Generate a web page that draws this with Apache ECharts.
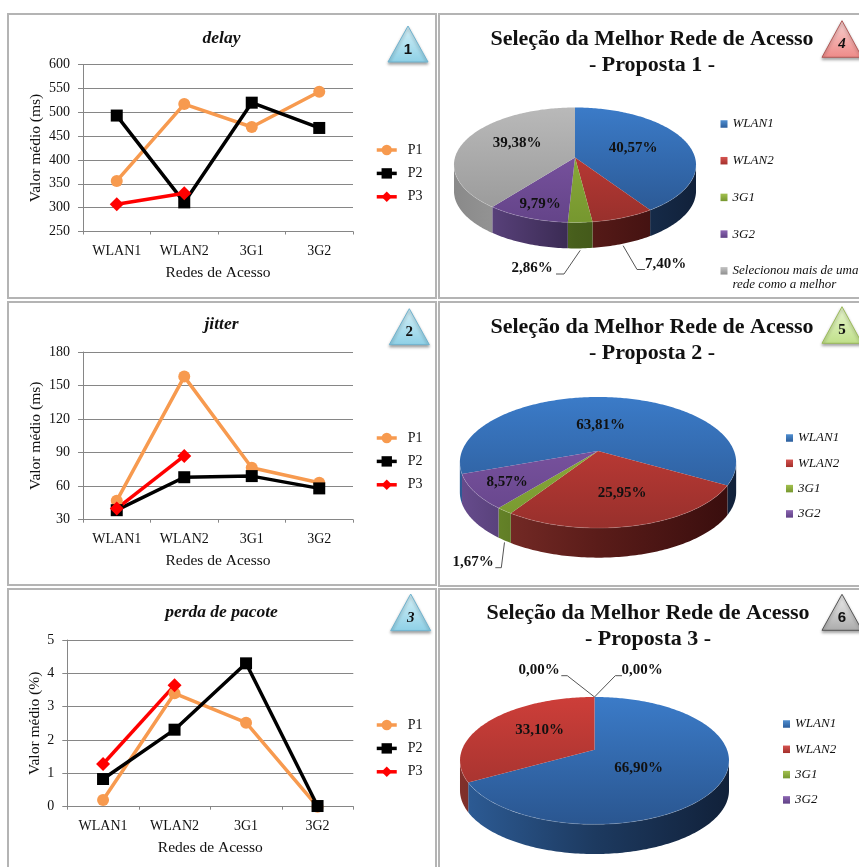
<!DOCTYPE html>
<html>
<head>
<meta charset="utf-8">
<style>html,body{margin:0;padding:0;background:#fff}#chart{width:859px;height:867px}</style>
<script src="https://cdn.jsdelivr.net/npm/echarts@6/dist/echarts.min.js"></script>
</head>
<body>
<div id="chart"></div>
<script>
// Network categories shared by every panel
const redes = ['WLAN1', 'WLAN2', '3G1', '3G2'];
const opcaoMultipla = 'Selecionou mais de uma';
const opcaoMultiplaResto = 'rede como a melhor';

// Mean delay (ms)
const delayP1 = [356, 517, 469, 543];
const delayP2 = [493, 311, 520, 467];
const delayP3 = [307, 330, null, null];

// Mean jitter (ms)
const jitterP1 = [47, 158, 76.5, 63];
const jitterP2 = [38.5, 68, 69, 58];
const jitterP3 = [40, 87, null, null];

// Mean packet loss (%)
const perdaP1 = [0.2, 3.4, 2.52, 0];
const perdaP2 = [0.83, 2.31, 4.3, 0.02];
const perdaP3 = [1.28, 3.64, null, null];

// Best-network choices (%)
const proposta1 = [40.57, 7.40, 2.86, 9.79, 39.38];
const proposta2 = [63.81, 25.95, 1.67, 8.57];
const proposta3 = [66.90, 33.10, 0.00, 0.00];

const FONT = '"Liberation Serif", "Times New Roman", serif';
const INK = '#111';
const GRID = '#868686';

// Colours for the perspective pies: top surface (back to front), wall (left to right), legend swatch
const paleta = [
  { top: ['#3b7bc8', '#2a5690'], wall: ['#2d5c96', '#1d3a60', '#11213a'], key: ['#4f8ed0', '#2b5d9c'] },
  { top: ['#cd3e39', '#98302c'], wall: ['#80302b', '#5a1c19', '#380d0d'], key: ['#d65450', '#a32f2b'] },
  { top: ['#96b440', '#76972f'], wall: ['#6f8f2c', '#475e1c', '#334512'], key: ['#a3c14f', '#76972f'] },
  { top: ['#845aaa', '#644489'], wall: ['#664b8c', '#382950', '#2a1e3c'], key: ['#8c66b2', '#5f4085'] },
  { top: ['#b9b9b9', '#979797'], wall: ['#8a8a8a', '#a6a6a6', '#a6a6a6'], key: ['#c4c4c4', '#8f8f8f'] }
];

function vertical(c0, c1) {
  return new echarts.graphic.LinearGradient(0, 0, 0, 1, [
    { offset: 0, color: c0 }, { offset: 1, color: c1 }
  ]);
}

const percent = v => v.toFixed(2).replace('.', ',') + '%';

// ---- Line charts ----
const linePanels = [
  { title: 'delay', titleY: 24, grid: [83, 64.5, 270, 167], min: 250, max: 600, step: 50, unit: 'ms', gap: 39,
    data: [delayP1, delayP2, delayP3], legendTop: 138 },
  { title: 'jitter', titleY: 310.5, grid: [83, 352, 270, 167.7], min: 30, max: 180, step: 30, unit: 'ms', gap: 39,
    data: [jitterP1, jitterP2, jitterP3], legendTop: 426 },
  { title: 'perda de pacote', titleY: 598.5, grid: [67.3, 640, 286, 166.7], min: 0, max: 5, step: 1, unit: '%', gap: 23,
    data: [perdaP1, perdaP2, perdaP3], legendTop: 713 }
];
const lineStyles = [
  { name: 'P1', color: '#f79a4f', symbol: 'circle', symbolSize: 12 },
  { name: 'P2', color: '#000000', symbol: 'rect', symbolSize: 12 },
  { name: 'P3', color: '#ff0000', symbol: 'diamond', symbolSize: 14 }
];

const titles = [], grids = [], xAxes = [], yAxes = [], legends = [], series = [];

linePanels.forEach((p, i) => {
  titles.push({
    text: p.title, left: 216.5, top: p.titleY, textAlign: 'center',
    textStyle: { fontFamily: FONT, fontSize: 17.5, fontWeight: 'bold', fontStyle: 'italic', color: INK }
  });
  grids.push({ left: p.grid[0], top: p.grid[1], width: p.grid[2], height: p.grid[3] });
  xAxes.push({
    type: 'category', gridIndex: i, data: redes, boundaryGap: true,
    name: 'Redes de Acesso', nameLocation: 'middle', nameGap: 33,
    nameTextStyle: { fontFamily: FONT, fontSize: 15.5, color: INK },
    axisLine: { show: true, lineStyle: { color: GRID, width: 1 } },
    axisTick: { show: true, alignWithLabel: false, length: 3, lineStyle: { color: GRID } },
    axisLabel: { fontFamily: FONT, fontSize: 14, color: INK, margin: 13 }
  });
  yAxes.push({
    type: 'value', gridIndex: i, min: p.min, max: p.max, interval: p.step,
    name: 'Valor médio (' + p.unit + ')', nameLocation: 'middle', nameGap: p.gap, nameRotate: 90,
    nameTextStyle: { fontFamily: FONT, fontSize: 15.5, color: INK },
    axisLine: { show: true, lineStyle: { color: GRID, width: 1 } },
    axisTick: { show: true, length: 5, lineStyle: { color: GRID } },
    axisLabel: { fontFamily: FONT, fontSize: 14, color: INK, margin: 13 },
    splitLine: { show: true, lineStyle: { color: GRID, width: 1 } }
  });
  legends.push({
    orient: 'vertical', left: 370, top: p.legendTop, data: ['P1', 'P2', 'P3'], selectedMode: false,
    itemWidth: 20, itemHeight: 13, itemGap: 9.4,
    lineStyle: { width: 3.5 },
    textStyle: { fontFamily: FONT, fontSize: 14, color: INK, padding: [0, 0, 0, 6] }
  });
  p.data.forEach((values, k) => {
    const s = lineStyles[k];
    series.push({
      type: 'line', name: s.name, xAxisIndex: i, yAxisIndex: i, data: values,
      symbol: s.symbol, symbolSize: s.symbolSize, connectNulls: false,
      lineStyle: { color: s.color, width: 3.5 }, itemStyle: { color: s.color }
    });
  });
});

// ---- Perspective pies ----
// Each pie is a circle seen through a projective camera: `a` horizontal radius, `b` depth radius,
// `k` foreshortening of the far rim, `h` wall height, `start` first slice angle (clockwise from the back).
// Labels are placed relative to the apex; `elbow` holds leader-line bends for labels outside the pie.
const piePanels = [
  { names: ['WLAN1', 'WLAN2', '3G1', '3G2', opcaoMultipla], values: proposta1,
    apex: [575, 157.5], a: 120, b: 56.5, k: 0.13, h: 26, start: 0,
    labels: [
      { at: [58, -9] },
      { at: [90.7, 106.5], elbow: [[62, 112], [70, 112]] },
      { at: [-43, 111], elbow: [[-11, 116.5], [-19, 116.5]] },
      { at: [-35, 46.5] },
      { at: [-58, -14.5] }
    ],
    title: '- Proposta 1 -', titleX: 647, titleY: 22,
    legend: { left: 715.5, top: 111, gap: 20.7 } },
  { names: ['WLAN1', 'WLAN2', '3G1', '3G2'], values: proposta2,
    apex: [598, 451], a: 136, b: 63.5, k: 0.176, h: 29.6, start: 250,
    labels: [
      { at: [2.7, -25.7] },
      { at: [24, 42] },
      { at: [-125, 110.7], elbow: [[-96.7, 116.7], [-102.7, 116.7]] },
      { at: [-91, 30.7] }
    ],
    title: '- Proposta 2 -', titleX: 647, titleY: 310,
    legend: { left: 781, top: 425, gap: 9.3 } },
  { names: ['WLAN1', 'WLAN2', '3G1', '3G2'], values: proposta3,
    apex: [594.5, 749.7], a: 132.5, b: 61.8, k: 0.172, h: 29.7, start: 0,
    labels: [
      { at: [44.2, 18.3] },
      { at: [-54.8, -19.4] },
      { at: [-55.5, -79.4], elbow: [[-27.2, -74], [-33.2, -74]] },
      { at: [47.5, -79.4], elbow: [[20.8, -74], [27.5, -74]] }
    ],
    title: '- Proposta 3 -', titleX: 643, titleY: 596,
    legend: { left: 778, top: 711, gap: 9.3 } }
];

const rad = d => d * Math.PI / 180;

function rim(p, deg) {
  const X = Math.sin(rad(deg)), Z = Math.cos(rad(deg)), w = 1 + p.k * Z;
  return [p.apex[0] + p.a * X / w, p.apex[1] - p.b * Z / w];
}

function sliceElements(p, idx, c) {
  const total = p.values.reduce((s, v) => s + v, 0);
  const before = p.values.slice(0, idx).reduce((s, v) => s + v, 0);
  const d0 = p.start + before / total * 360;
  const d1 = d0 + p.values[idx] / total * 360;
  const top = p.apex[1] - p.b / (1 + p.k), bottom = p.apex[1] + p.b / (1 - p.k);
  const left = p.apex[0] - p.a, right = p.apex[0] + p.a;
  const out = [];
  if (d1 > d0) {
    // Side wall: only the near half of the rim is visible
    const nearA = Math.acos(-p.k) * 180 / Math.PI, nearB = 360 - nearA;
    for (const shift of [0, 360, -360]) {
      const from = Math.max(d0 + shift, nearA), to = Math.min(d1 + shift, nearB);
      if (to > from) {
        const upper = [], lower = [];
        for (let t = from; t < to; t += 1) upper.push(rim(p, t));
        upper.push(rim(p, to));
        upper.forEach(q => lower.unshift([q[0], q[1] + p.h]));
        out.push({
          type: 'polygon', shape: { points: upper.concat(lower) }, z2: 1,
          style: {
            fill: new echarts.graphic.LinearGradient(left, 0, right, 0, [
              { offset: 0, color: c.wall[0] }, { offset: 0.5, color: c.wall[1] }, { offset: 1, color: c.wall[2] }
            ], true)
          }
        });
        // Soft highlight along the bevelled front edge
        out.push({
          type: 'polyline', shape: { points: upper }, z2: 3,
          style: { stroke: 'rgba(255,255,255,0.16)', lineWidth: 1, fill: null }
        });
      }
    }
    // Top surface
    const pts = [p.apex.slice()];
    for (let t = d0; t < d1; t += 1) pts.push(rim(p, t));
    pts.push(rim(p, d1));
    out.push({
      type: 'polygon', shape: { points: pts }, z2: 2,
      style: { fill: new echarts.graphic.LinearGradient(0, top, 0, bottom, [
        { offset: 0, color: c.top[0] }, { offset: 1, color: c.top[1] }
      ], true) }
    });
  }
  // Value label, with a leader line when it sits outside the pie
  const lab = p.labels[idx];
  const lx = p.apex[0] + lab.at[0], ly = p.apex[1] + lab.at[1];
  if (lab.elbow) {
    const mid = (d0 + d1) / 2;
    const s = rim(p, mid);
    if (Math.cos(rad(mid)) < 0) s[1] += p.h + 2;
    out.push({
      type: 'polyline', z2: 3,
      shape: { points: [s].concat(lab.elbow.map(e => [p.apex[0] + e[0], p.apex[1] + e[1]])) },
      style: { stroke: '#555', lineWidth: 1, fill: null }
    });
  }
  out.push({
    type: 'text', z2: 5,
    style: {
      x: lx, y: ly, text: percent(p.values[idx]), fill: INK,
      fontFamily: FONT, fontSize: 15, fontWeight: 'bold', align: 'center', verticalAlign: 'middle'
    }
  });
  return out;
}

piePanels.forEach(p => {
  titles.push({
    text: 'Seleção da Melhor Rede de Acesso\n' + p.title, left: p.titleX, top: p.titleY, textAlign: 'center',
    textStyle: { fontFamily: FONT, fontSize: 22, fontWeight: 'bold', color: INK, lineHeight: 25.5, align: 'center' }
  });
  legends.push({
    orient: 'vertical', left: p.legend.left, top: p.legend.top, data: p.names, selectedMode: false,
    icon: 'rect', itemWidth: 7, itemHeight: 7.5, itemGap: p.legend.gap, align: 'left',
    textStyle: { fontFamily: FONT, fontSize: 13, fontStyle: 'italic', color: INK, lineHeight: 16 }
  });
  p.names.forEach((name, idx) => {
    const c = paleta[idx];
    series.push({
      type: 'custom', name: name, coordinateSystem: 'none', data: [p.values[idx]],
      itemStyle: { color: vertical(c.key[0], c.key[1]) },
      renderItem: () => ({ type: 'group', children: sliceElements(p, idx, c) })
    });
  });
});

// ---- Panel frames and numbered badges ----
const frames = [
  [8, 14, 428, 284], [8, 302, 428, 283], [8, 589, 428, 290],
  [439, 14, 430, 284], [439, 302, 430, 284], [439, 589, 430, 290]
];
const badges = [
  { n: '1', cx: 408, top: 26, base: 62, fill: ['#d6f1f8', '#8ed0e6'], line: '#6fb3cf', font: '"Liberation Sans"', style: 'normal' },
  { n: '2', cx: 409.3, top: 308.7, base: 344.7, fill: ['#d6f1f8', '#8ed0e6'], line: '#6fb3cf', font: FONT, style: 'normal' },
  { n: '3', cx: 410.7, top: 594, base: 630.7, fill: ['#d6f1f8', '#8ed0e6'], line: '#6fb3cf', font: FONT, style: 'italic' },
  { n: '4', cx: 842, top: 20.7, base: 57.3, fill: ['#f8d3d2', '#ee8a88'], line: '#b05a58', font: FONT, style: 'italic' },
  { n: '5', cx: 842, top: 306.7, base: 343.3, fill: ['#e9f6d0', '#c0e08a'], line: '#9bbb59', font: FONT, style: 'normal' },
  { n: '6', cx: 842, top: 594.3, base: 630.3, fill: ['#f0f0f0', '#ababab'], line: '#555555', font: '"Liberation Sans"', style: 'normal' }
];
const graphics = [];
frames.forEach(f => graphics.push({
  type: 'rect', z: -1, silent: true,
  shape: { x: f[0], y: f[1], width: f[2], height: f[3] },
  style: { fill: '#fff', stroke: '#b4b4b4', lineWidth: 2 }
}));
badges.forEach(b => {
  graphics.push({
    type: 'polygon', z: 3, silent: true,
    shape: { points: [[b.cx, b.top], [b.cx + 20, b.base], [b.cx - 20, b.base]] },
    style: {
      fill: new echarts.graphic.LinearGradient(0, 0, 0, 1, [
        { offset: 0, color: b.fill[0] }, { offset: 1, color: b.fill[1] }
      ]),
      stroke: b.line, lineWidth: 1,
      shadowBlur: 3, shadowOffsetY: 2, shadowColor: 'rgba(0,0,0,0.35)'
    }
  });
  graphics.push({
    type: 'text', z: 4, silent: true, x: b.cx, y: (b.top + b.base) / 2 + 5.5,
    style: {
      text: b.n, fill: '#111', fontFamily: b.font, fontSize: 15, fontWeight: 'bold', fontStyle: b.style,
      align: 'center', verticalAlign: 'middle'
    }
  });
});
// Second line of the long legend entry in the first pie panel
graphics.push({
  type: 'text', z: 4, silent: true, x: 732.5, y: 285,
  style: {
    text: opcaoMultiplaResto, fill: INK, fontFamily: FONT, fontSize: 13, fontStyle: 'italic',
    align: 'left', verticalAlign: 'middle'
  }
});

const chart = echarts.init(document.getElementById('chart'), null, { renderer: 'canvas' });
chart.setOption({
  animation: false,
  backgroundColor: '#ffffff',
  textStyle: { fontFamily: FONT },
  title: titles, grid: grids, xAxis: xAxes, yAxis: yAxes, legend: legends, series: series,
  graphic: graphics
});
</script>
</body>
</html>
